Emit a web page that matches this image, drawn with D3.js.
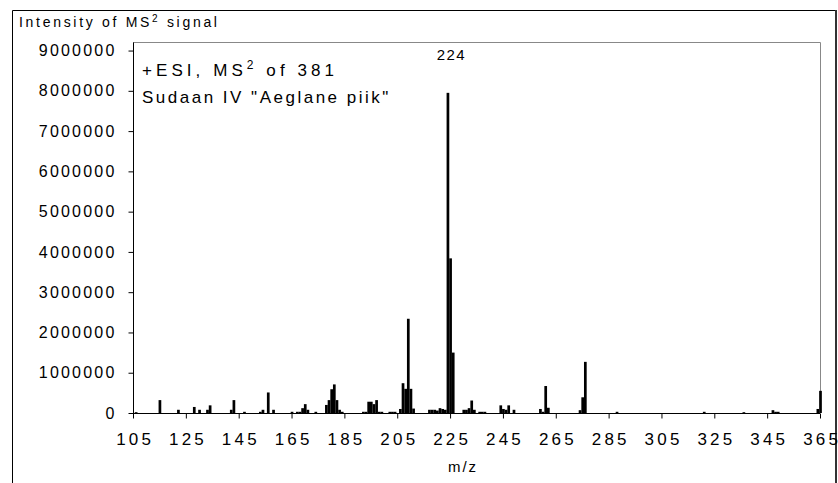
<!DOCTYPE html>
<html>
<head>
<meta charset="utf-8">
<script src="https://cdn.jsdelivr.net/npm/d3@7"></script>
<style>
  html, body { margin: 0; padding: 0; background: #fff; }
  svg { display: block; font-family: "Liberation Sans", Arial, sans-serif; }
</style>
</head>
<body>
<svg id="chart" width="838" height="483"></svg>
<script>
// m/z values (categories)
const mzValues = [106,115,122,128,130,133,134,142,143,147,153,154,156,158,165,167,168,169,170,171,174,
  178,179,180,181,182,183,184,192,193,194,195,196,197,198,199,202,203,204,206,207,208,209,210,211,
  217,218,219,220,221,222,223,224,225,226,230,231,232,233,234,236,237,238,244,245,246,247,249,
  259,260,261,262,274,275,276,288,321,336,347,348,349,364,365];
// intensities (counts)
const intensities = [20000,320000,80000,150000,80000,80000,190000,80000,320000,30000,30000,80000,510000,80000,30000,30000,30000,120000,220000,80000,30000,
  200000,320000,590000,710000,320000,80000,30000,30000,30000,280000,280000,220000,320000,30000,30000,30000,30000,30000,100000,740000,600000,2340000,600000,110000,
  80000,80000,80000,60000,120000,100000,80000,7950000,3840000,1500000,80000,80000,120000,310000,80000,30000,30000,30000,190000,100000,80000,190000,80000,
  100000,30000,670000,130000,70000,390000,1270000,30000,30000,20000,70000,30000,30000,100000,550000];
const xTickLabels = [105,125,145,165,185,205,225,245,265,285,305,325,345,365];
const yTickLabels = [0,1000000,2000000,3000000,4000000,5000000,6000000,7000000,8000000,9000000];
const peakLabel = {mz: 224, text: "224"};

const data = mzValues.map((m, i) => ({mz: m, v: intensities[i]}));

const svg = d3.select("#chart");
const L = 133, R = 820, T = 42.5, B = 413;
const x = d3.scaleLinear().domain([105, 365]).range([L, R]);
const y = d3.scaleLinear().domain([0, 9200000]).range([B, T]);

// outer frame
svg.append("path")
  .attr("d", `M12.5,483 V10.5 H836 V483`)
  .attr("fill", "none").attr("stroke", "#000").attr("stroke-width", 1);
svg.append("line").attr("x1", 836).attr("x2", 836).attr("y1", 10).attr("y2", 483)
  .attr("stroke", "#333").attr("stroke-width", 2);

// plot area border (grey)
svg.append("path")
  .attr("d", `M${L},${T} H${R + 0.5} V${B}`)
  .attr("fill", "none").attr("stroke", "#888").attr("stroke-width", 1);

// bars
const bw = 2.7;
svg.append("g").selectAll("rect").data(data).join("rect")
  .attr("x", d => x(d.mz) - bw / 2 + 0.5)
  .attr("y", d => y(d.v))
  .attr("width", bw)
  .attr("height", d => B - y(d.v))
  .attr("fill", "#000");

// y axis
const yAxis = d3.axisLeft(y).tickValues(yTickLabels).tickSize(5).tickPadding(14)
  .tickFormat(d3.format("d"));
const gy = svg.append("g").attr("transform", `translate(${L + 0.5},0)`).call(yAxis);
gy.select(".domain").attr("stroke", "#000").attr("d", `M0,${T}V${B}`);
gy.selectAll(".tick line").attr("stroke", "#000");
gy.selectAll(".tick text").attr("font-size", 16).attr("fill", "#000")
  .attr("font-family", "'Liberation Sans', Arial, sans-serif")
  .style("letter-spacing", "2.2px").attr("dx", "2px");

// x axis
const xls = 3.2;
const xAxis = d3.axisBottom(x).tickValues(xTickLabels).tickSize(5).tickPadding(14)
  .tickFormat(d3.format("d"));
const gx = svg.append("g").attr("transform", `translate(0,${B + 0.5})`).call(xAxis);
gx.select(".domain").attr("stroke", "#000").attr("d", `M${L},0H${R}`);
gx.selectAll(".tick line").attr("stroke", "#000");
gx.selectAll(".tick text").attr("font-size", 17).attr("fill", "#000")
  .attr("font-family", "'Liberation Sans', Arial, sans-serif")
  .style("letter-spacing", xls + "px").attr("dx", (xls / 2) + "px");

// axis title x
svg.append("text").attr("x", 463).attr("y", 472).attr("text-anchor", "middle")
  .attr("font-size", 15).style("letter-spacing", "2px").text("m/z");

// axis title y (top-left)
const yt = svg.append("text").attr("x", 19).attr("y", 27).attr("font-size", 14)
  .attr("textLength", 198).attr("lengthAdjust", "spacing");
yt.append("tspan").text("Intensity of MS");
yt.append("tspan").attr("font-size", 10).attr("dy", -5).text("2");
yt.append("tspan").attr("dy", 5).text(" signal");

// peak label
svg.append("text").attr("x", x(peakLabel.mz) + 4).attr("y", 60).attr("text-anchor", "middle")
  .attr("font-size", 15).style("letter-spacing", "1.5px").text(peakLabel.text);

// annotation
const a1 = svg.append("text").attr("x", 142).attr("y", 76).attr("font-size", 17)
  .attr("textLength", 192).attr("lengthAdjust", "spacing");
a1.append("tspan").text("+ESI, MS");
a1.append("tspan").attr("font-size", 12).attr("dy", -7).text("2");
a1.append("tspan").attr("dy", 7).text(" of 381");
svg.append("text").attr("x", 142).attr("y", 103).attr("font-size", 17)
  .style("letter-spacing", "2.5px").text('Sudaan IV "Aeglane piik"');
</script>
</body>
</html>
